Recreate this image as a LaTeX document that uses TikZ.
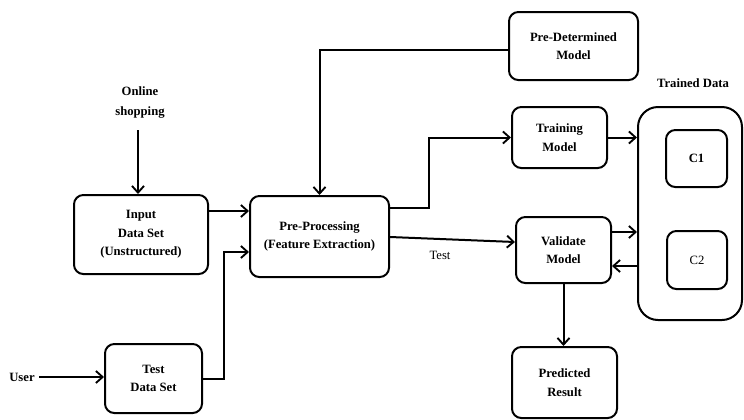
\documentclass[tikz,border=0pt]{standalone}
\usepackage{fontspec}
\setmainfont{Liberation Serif}
\usetikzlibrary{arrows.meta, calc}
\tikzset{
  block/.style={rectangle, rounded corners=7pt, draw=black, line width=1.5pt,
                align=center, font=\fontsize{9.5}{14}\selectfont\bfseries, inner sep=2pt},
  label/.style={align=center, font=\fontsize{9.5}{15}\selectfont\bfseries},
  arrow/.style={-{Straight Barb[length=5pt, width=9pt, line width=1.4pt]}, line width=1.5pt},
}

\begin{document}
\begin{tikzpicture}[x=0.75pt, y=-0.75pt]
  \useasboundingbox (0,0) rectangle (744,419);

  % main blocks
  \node[block, minimum width=100.5pt, minimum height=59.25pt] (input) at (141,234.5) {Input\\Data Set\\(Unstructured)};
  \node[block, minimum width=104.25pt, minimum height=60.75pt] (preproc) at (319.5,236.5) {Pre-Processing\\(Feature Extraction)};
  \node[block, minimum width=72.75pt, minimum height=51.75pt] (testset) at (153.5,378.5) {Test\\Data Set};
  \node[block, minimum width=96.75pt, minimum height=51pt] (predet) at (573.5,46) {Pre-Determined\\Model};
  \node[block, minimum width=71.25pt, minimum height=45.75pt] (train) at (559.5,137.5) {Training\\Model};
  \node[block, minimum width=71.25pt, minimum height=49.5pt] (valid) at (563.5,250) {Validate\\Model};
  \node[block, minimum width=78.75pt, minimum height=53.25pt] (predict) at (564.5,382.5) {Predicted\\Result};

  % trained data store
  \node[block, rounded corners=15pt, minimum width=78pt, minimum height=159.75pt] (trained) at (690,213.5) {};
  \node[block, minimum width=45.75pt, minimum height=42.75pt] (cone) at (696.5,158.5) {C1};
  \node[block, minimum width=45pt, minimum height=43.5pt, font=\fontsize{9.5}{14}\selectfont] (ctwo) at (697,260) {C2};

  % free labels
  \node[label] (online) at (140,102) {Online\\shopping};
  \node[label] (user) at (22,377) {User};
  \node[label] (trainedlbl) at (693,83) {Trained Data};

  % connectors
  \draw[arrow] (138,130) -- (138,0 |- input.north);
  \draw[arrow] (input.east |- 0,211) -- (preproc.west |- 0,211);
  \draw[arrow] (user.east) -- (user.east -| testset.west);
  \draw[arrow] (testset.east) -- ++(21,0) |- (preproc.west |- 0,252);
  \draw[arrow] (predet.west |- 0,50) -| (preproc.north);
  \draw[arrow] (preproc.east |- 0,208) -- (429,208) |- (train.west);
  \draw[arrow] (preproc.east |- 0,237) -- (valid.west |- 0,242)
    node[pos=0.4, below=5pt, font=\fontsize{9.5}{14}\selectfont] {Test};
  \draw[arrow] (train.east) -- (train.east -| trained.west);
  \draw[arrow] (valid.east |- 0,232) -- (trained.west |- 0,232);
  \draw[arrow] (trained.west |- 0,266) -- (valid.east |- 0,266);
  \draw[arrow] (valid.south) -- (valid.south |- predict.north);
\end{tikzpicture}
\end{document}
